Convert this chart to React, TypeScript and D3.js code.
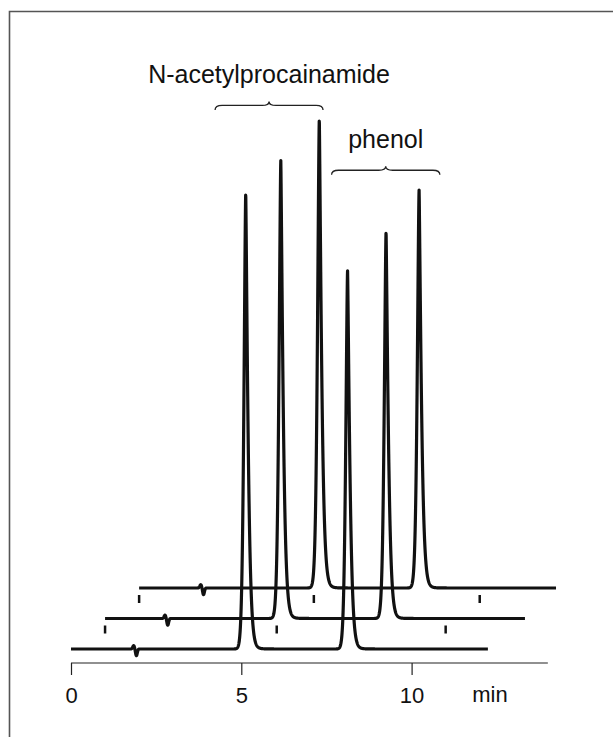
import React, { useEffect, useRef } from "react";
import * as d3 from "d3";

// three chromatograms, stacked and shifted by one minute each
const runs = ["run 1", "run 2", "run 3"];
const runShiftMin = [0, 1, 2];
const runEndMin = [12.24, 12.33, 12.24];
const injectMarkMin = [1.9, 1.82, 1.87];
const napaTimes = [5.13, 5.16, 5.29];
const napaHeights = [95.0, 95.4, 97.7];
const phenolTimes = [8.12, 8.25, 8.22];
const phenolHeights = [78.8, 80.6, 82.9];
const timeMarks = [[], [0, 5.04, 10.0], [0, 5.13, 10.0]];

const axisTicks = [0, 5, 10];
const axisUnit = "min";

const braceLabels = ["N-acetylprocainamide", "phenol"];
const braceFrom = [4.23, 7.65];
const braceTo = [7.4, 10.83];
const braceLevel = [112.3, 98.8];

const width = 613;
const height = 737;

type Pt = [number, number];

// sharp-topped peak with a bit of tailing on the right
function peakAt(t: number, t0: number, h: number) {
  const d = t - t0;
  if (d < 0) return h * Math.exp(-Math.pow(-d / 0.075, 1.5));
  return h * (0.986 * Math.exp(-Math.pow(d / 0.088, 1.25)) + 0.014 * Math.exp(-d / 0.15));
}

export default function App() {
  const svgRef = useRef<SVGSVGElement>(null);

  useEffect(() => {
    const svg = d3.select(svgRef.current);
    svg.selectAll("*").remove();

    const x = d3.scaleLinear().domain([0, 14]).range([71, 71 + 14 * 34.06]);
    const axisY = 663;
    const baseY = 649;
    const stackStep = 30.5;
    const yFor = (i: number) =>
      d3.scaleLinear().domain([0, 100]).range([baseY - i * stackStep, baseY - i * stackStep - 480]);

    // frame
    svg
      .append("path")
      .attr("d", `M9.5,${height} L9.5,11.5 L${width},11.5`)
      .attr("fill", "none")
      .attr("stroke", "#555")
      .attr("stroke-width", 1.6);

    const line = d3
      .line<Pt>()
      .x((d) => d[0])
      .y((d) => d[1]);

    runs.forEach((run, i) => {
      const y = yFor(i);
      const shift = runShiftMin[i];
      const pts: Pt[] = [];
      const inj = injectMarkMin[i];
      for (let t = 0; t <= runEndMin[i] + 1e-9; t += 0.004) {
        let v = peakAt(t, napaTimes[i], napaHeights[i]) + peakAt(t, phenolTimes[i], phenolHeights[i]);
        // injection blip: small bump up then a dip
        const di = t - inj;
        if (Math.abs(di) < 0.2) {
          v += 0.7 * Math.exp(-((di + 0.06) ** 2) / (2 * 0.028 * 0.028));
          v -= 1.4 * Math.exp(-((di - 0.02) ** 2) / (2 * 0.026 * 0.026));
        }
        pts.push([x(t + shift), y(v)]);
      }
      svg
        .append("path")
        .attr("class", "trace")
        .attr("data-run", run)
        .attr("d", line(pts))
        .attr("fill", "none")
        .attr("stroke", "#111")
        .attr("stroke-width", 3.2)
        .attr("stroke-linejoin", "round")
        .attr("stroke-linecap", "butt");

      // time marks under the baseline
      svg
        .append("g")
        .selectAll("line")
        .data(timeMarks[i])
        .enter()
        .append("line")
        .attr("x1", (d) => x(d + shift))
        .attr("x2", (d) => x(d + shift))
        .attr("y1", y(0) + 7)
        .attr("y2", y(0) + 15)
        .attr("stroke", "#111")
        .attr("stroke-width", 2.5);
    });

    // braces with compound names
    const y0 = yFor(0);
    braceLabels.forEach((label, i) => {
      const x1 = x(braceFrom[i]);
      const x2 = x(braceTo[i]);
      const xm = (x1 + x2) / 2;
      const by = y0(braceLevel[i]);
      const f = 4.5;
      const c = 8.5;
      const r = 7;
      const p = d3.path();
      p.moveTo(x1, by);
      p.quadraticCurveTo(x1, by - f, x1 + r, by - f);
      p.lineTo(xm - r, by - f);
      p.quadraticCurveTo(xm, by - f, xm, by - c);
      p.quadraticCurveTo(xm, by - f, xm + r, by - f);
      p.lineTo(x2 - r, by - f);
      p.quadraticCurveTo(x2, by - f, x2, by);
      svg
        .append("path")
        .attr("d", p.toString())
        .attr("fill", "none")
        .attr("stroke", "#222")
        .attr("stroke-width", 1.3);
      svg
        .append("text")
        .attr("x", xm)
        .attr("y", by - 27)
        .attr("text-anchor", "middle")
        .attr("font-family", "'Liberation Sans', Arial, sans-serif")
        .attr("font-size", 25)
        .attr("fill", "#111")
        .text(label);
    });

    // time axis
    const axis = d3
      .axisBottom(x)
      .tickValues(axisTicks)
      .tickSize(12)
      .tickSizeOuter(0)
      .tickPadding(12)
      .tickFormat((d) => String(d));
    const g = svg.append("g").attr("transform", `translate(0,${axisY})`).call(axis);
    g.select(".domain")
      .attr("d", `M${x(0)},0H${x(14)}`)
      .attr("stroke", "#222")
      .attr("stroke-width", 1.2);
    g.selectAll(".tick line").attr("stroke", "#222").attr("stroke-width", 1.2);
    g.selectAll(".tick text")
      .attr("font-family", "'Liberation Sans', Arial, sans-serif")
      .attr("font-size", 22)
      .attr("fill", "#111");
    svg
      .append("text")
      .attr("x", x(12.3))
      .attr("y", axisY + 39)
      .attr("text-anchor", "middle")
      .attr("font-family", "'Liberation Sans', Arial, sans-serif")
      .attr("font-size", 22)
      .attr("fill", "#111")
      .text(axisUnit);
  }, []);

  return (
    <svg
      ref={svgRef}
      width={width}
      height={height}
      style={{ position: "absolute", left: 0, top: 0, background: "#fff" }}
    ></svg>
  );
}
